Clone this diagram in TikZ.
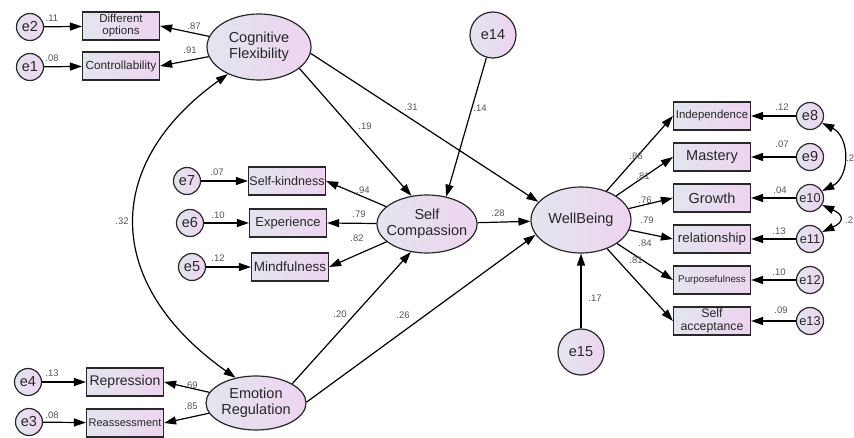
\documentclass[tikz,border=0pt]{standalone}
\usepackage{fontspec}
\setmainfont{Liberation Sans}
\usetikzlibrary{arrows.meta,shapes.geometric}

\definecolor{fillL}{RGB}{226,229,238}
\definecolor{fillR}{RGB}{238,212,240}
\definecolor{edgeC}{RGB}{40,40,40}
\definecolor{wtC}{RGB}{85,85,85}
\newcommand\fsz[2]{\fontsize{#1}{#2}\selectfont}

\tikzset{
  obs/.style={draw=edgeC, line width=1.2pt, left color=fillL, right color=fillR,
    minimum width=77pt, minimum height=28pt, inner sep=0pt, align=center, text=black!85},
  lat/.style={draw=edgeC, line width=1.2pt, ellipse, left color=fillL, right color=fillR,
    inner sep=-6pt, align=center, text=black!85, font=\fsz{14.5}{16}},
  err/.style={draw=edgeC, line width=1.2pt, circle, left color=fillL, right color=fillR,
    minimum size=27pt, inner sep=0pt, text=black!85, font=\fsz{14.5}{14}},
  errtwo/.style={err, font=\fsz{12.8}{13}},
  bigerr/.style={err, minimum size=46pt, font=\fsz{14.5}{15}},
  wt/.style={text=wtC, font=\fsz{9.5}{10}, inner sep=0pt},
  reg/.style={line width=1.2pt, -{Triangle[length=12pt,width=8pt]}},
  cov/.style={line width=1.2pt, {Triangle[length=12pt,width=8pt]}-{Triangle[length=12pt,width=8pt]}},
}

\begin{document}
\begin{tikzpicture}[x=1pt,y=1pt,yscale=-1]
\useasboundingbox (0,0) rectangle (854,438);

%Latent variables
\node[lat, minimum width=104pt, minimum height=66pt] (cf) at (259,47) {Cognitive\\Flexibility};
\node[lat, minimum width=100pt, minimum height=58pt] (sc) at (427,224) {Self\\Compassion};
\node[lat, minimum width=100pt, minimum height=66pt] (wb) at (581,220) {WellBeing};
\node[lat, minimum width=100pt, minimum height=54pt] (er) at (256,403) {Emotion\\Regulation};

%Indicators, left side
\node[obs, font=\fsz{11.5}{12}] (diff) at (121,26) {Different\\options};
\node[obs, font=\fsz{11.8}{12}] (ctrl) at (121,66) {Controllability};
\node[obs, font=\fsz{12.5}{13}] (kind) at (287,181) {Self-kindness};
\node[obs, font=\fsz{13}{13}] (expe) at (288,223) {Experience};
\node[obs, font=\fsz{13.5}{14}] (mind) at (290,267) {Mindfulness};
\node[obs, font=\fsz{14}{14}] (repr) at (125,382) {Repression};
\node[obs, font=\fsz{11}{11}] (reas) at (125,423) {Reassessment};

%Indicators, right side
\node[obs, font=\fsz{11.4}{12}] (inde) at (712,116) {Independence};
\node[obs, font=\fsz{14.5}{15}] (mast) at (712,157) {Mastery};
\node[obs, font=\fsz{14.5}{15}] (grow) at (712,198) {Growth};
\node[obs, font=\fsz{13.3}{14}] (rela) at (712,239) {relationship};
\node[obs, font=\fsz{9.8}{10}] (purp) at (712,280) {Purposefulness};
\node[obs, font=\fsz{12.3}{13}] (acce) at (712,321) {Self\\acceptance};

%Error terms
\node[err] (e2) at (30,27) {e2};
\node[err] (e1) at (30,67) {e1};
\node[err] (e7) at (187,181) {e7};
\node[err] (e6) at (190,223) {e6};
\node[err] (e5) at (192,267) {e5};
\node[err] (e4) at (28,382) {e4};
\node[err] (e3) at (29,422) {e3};
\node[err] (e8) at (810,116) {e8};
\node[err] (e9) at (810,157) {e9};
\node[errtwo] (e10) at (810,198) {e10};
\node[errtwo] (e11) at (810,239) {e11};
\node[errtwo] (e12) at (810,280) {e12};
\node[errtwo] (e13) at (810,321) {e13};
\node[bigerr] (e14) at (493,35) {e14};
\node[bigerr] (e15) at (581,352) {e15};

%Measurement paths
\draw[reg] (cf) -- (diff.east);
\draw[reg] (cf) -- (ctrl.east);
\draw[reg] (sc) -- (kind.east);
\draw[reg] (sc) -- (expe.east);
\draw[reg] (sc) -- (mind.east);
\draw[reg] (er) -- (repr.east);
\draw[reg] (er) -- (reas.east);
\draw[reg] (wb) -- (inde.west);
\draw[reg] (wb) -- (mast.west);
\draw[reg] (wb) -- (grow.west);
\draw[reg] (wb) -- (rela.west);
\draw[reg] (wb) -- (purp.west);
\draw[reg] (wb) -- (acce.west);

%Error paths
\draw[reg] (e2) -- (diff);
\draw[reg] (e1) -- (ctrl);
\draw[reg] (e7) -- (kind);
\draw[reg] (e6) -- (expe);
\draw[reg] (e5) -- (mind);
\draw[reg] (e4) -- (repr);
\draw[reg] (e3) -- (reas);
\draw[reg] (e8) -- (inde);
\draw[reg] (e9) -- (mast);
\draw[reg] (e10) -- (grow);
\draw[reg] (e11) -- (rela);
\draw[reg] (e12) -- (purp);
\draw[reg] (e13) -- (acce);
\draw[reg] (e14) -- (sc.55);
\draw[reg] (e15) -- (wb);

%Structural paths
\draw[reg] (cf.-28) -- (sc.119);
\draw[reg] (cf.-7) -- (wb.157);
\draw[reg] (sc) -- (wb);
\draw[reg] (er.28) -- (sc.240);
\draw[reg] (er.1) -- (wb.198);

%Covariances
\draw[cov] (cf.221) .. controls +(-128,92) and +(-130,-92) .. (er.129);
\draw[cov] (e8.-30) .. controls +(28,14) and +(28,-14) .. (e10.30);
\draw[cov] (e10.-30) .. controls +(22,10) and +(22,-10) .. (e11.30);

% Weights
\node[wt] (wE2) at (52,18) {.11};
\node[wt] (wE1) at (52,58) {.08};
\node[wt] (wDiff) at (194,26) {.87};
\node[wt] (wCtrl) at (190,50) {.91};
\node[wt] (wCfSc) at (365,126) {.19};
\node[wt] (wCfWb) at (411,107) {.31};
\node[wt] (wE14) at (480,108) {.14};
\node[wt] (wKind) at (363,190) {.94};
\node[wt] (wExpe) at (359,214) {.79};
\node[wt] (wMind) at (357,238) {.82};
\node[wt] (wE7) at (217,172) {.07};
\node[wt] (wE6) at (218,215) {.10};
\node[wt] (wE5) at (218,258) {.12};
\node[wt] (wScWb) at (498,213) {.28};
\node[wt] (wErSc) at (340,314) {.20};
\node[wt] (wErWb) at (403,315) {.26};
\node[wt] (wE4) at (52,373) {.13};
\node[wt] (wE3) at (52,415) {.08};
\node[wt] (wRepr) at (191,385) {.69};
\node[wt] (wReas) at (191,406) {.85};
\node[wt] (wInde) at (636,156) {.86};
\node[wt] (wMast) at (643,176) {.81};
\node[wt] (wGrow) at (645,200) {.76};
\node[wt] (wRela) at (647,220) {.79};
\node[wt] (wPurp) at (645,243) {.84};
\node[wt] (wAcce) at (636,260) {.81};
\node[wt] (wE15) at (595,298) {.17};
\node[wt] (wE8) at (782,107) {.12};
\node[wt] (wE9) at (782,144) {.07};
\node[wt] (wE10) at (780,190) {.04};
\node[wt] (wE11) at (779,231) {.13};
\node[wt] (wE12) at (779,272) {.10};
\node[wt] (wE13) at (781,310) {.09};
\node[wt] (wCov) at (122,221) {.32};
\node[wt, anchor=west] (wC810) at (846,158) {.2};
\node[wt, anchor=west] (wC1011) at (845,220) {.2};

\end{tikzpicture}
\end{document}
